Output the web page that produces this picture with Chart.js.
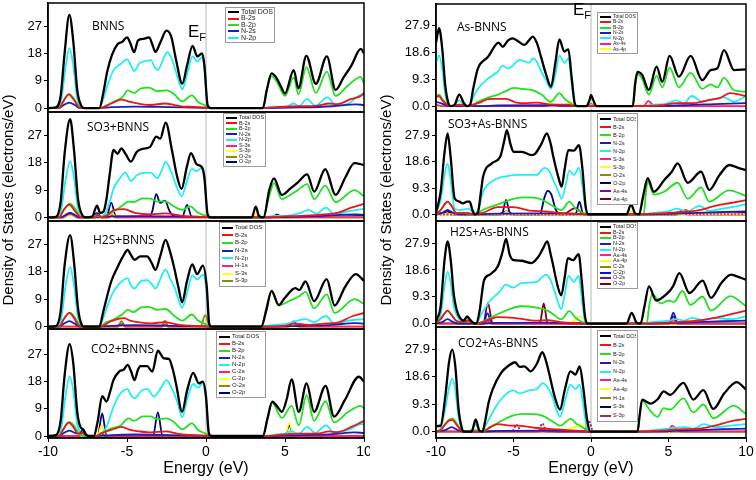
<!DOCTYPE html>
<html>
<head>
<meta charset="utf-8">
<title>DOS of BNNS and As-BNNS with adsorbed gases</title>
<script src="https://cdn.jsdelivr.net/npm/chart.js@4.4.1/dist/chart.umd.min.js"></script>
<style>
  html, body { margin: 0; padding: 0; background: #fff; }
  #figure { position: relative; width: 756px; height: 480px; overflow: hidden; font-family: "Liberation Sans", Arial, sans-serif; }
  #figure canvas { position: absolute; }
  .panel-title { position: absolute; font-family: "Open Sans", sans-serif; font-size: 12px; line-height: 14px; color: #000; white-space: nowrap; }
  .fermi { position: absolute; font-size: 17px; line-height: 18px; color: #000; white-space: nowrap; }
  .fermi sub { font-size: 11px; vertical-align: -4px; }
  .axis-title { position: absolute; width: 260px; height: 18px; font-size: 15px; line-height: 18px; text-align: center; white-space: nowrap; transform: rotate(-90deg); }
  .dos-legend { position: absolute; background: #fff; border: 1px solid #9a9a9a; box-sizing: border-box; padding: 1px 1px 1px 2px; }
  .dos-legend div { display: flex; align-items: center; white-space: nowrap; color: #222; overflow: hidden; }
  .dos-legend .swatch { display: inline-block; flex: none; width: 11px; height: 2px; margin-right: 2px; }
</style>
</head>
<body>
<div id="figure"></div>
<script>
// axis ticks
const X_TICKS = [-10, -5, 0, 5, 10];
const LEFT_Y_TICKS = [0, 9, 18, 27];
const RIGHT_Y_TICKS = [0, 9.3, 18.6, 27.9];
const FERMI_LEVEL = 0;

// ---- BNNS ----
const l1Total = [[-10,0],[-9.5,0.2],[-9.2,4],[-8.95,18],[-8.65,30.7],[-8.4,22],[-8.15,6],[-7.9,0.8],[-7.7,0],[-6.75,0],[-6.5,5],[-6.25,12],[-5.95,17.5],[-5.6,21],[-5.3,21.8],[-5.0,23.3],[-4.8,21.5],[-4.55,18.4],[-4.3,22.3],[-3.95,22.8],[-3.6,23.3],[-3.4,21],[-3.2,18.5],[-2.9,21.5],[-2.5,25.5],[-2.2,23.5],[-1.9,16],[-1.5,8],[-1.2,14],[-0.85,20.5],[-0.55,17],[-0.25,18],[-0.1,14],[0.1,1],[0.3,0],[3.6,0],[3.85,6],[4.15,11.4],[4.45,10],[4.75,7],[5.0,4.8],[5.55,12.5],[5.85,6.5],[6.35,17.2],[6.95,8],[7.65,17],[8.2,6],[8.7,10],[9.2,14],[9.8,19.5],[10,18]];
const l1N2p = [[-10,0],[-9.5,0.1],[-9.15,3],[-8.9,13],[-8.65,19.7],[-8.4,14],[-8.15,3],[-7.85,0],[-6.75,0],[-6.5,3],[-6.2,8],[-5.85,12.5],[-5.4,14.5],[-5.0,16],[-4.75,14],[-4.55,12.2],[-4.2,14.8],[-3.8,15.5],[-3.5,15.8],[-3.25,13.5],[-3.05,12.5],[-2.75,15.5],[-2.45,18.4],[-2.15,16],[-1.85,11],[-1.5,6.2],[-1.2,11],[-0.85,17],[-0.55,15.3],[-0.25,16.8],[-0.1,13],[0.1,1],[0.3,0],[3.6,0],[4.2,0.5],[5.0,0.4],[5.55,1.5],[5.9,0.6],[6.4,3],[6.9,0.8],[7.7,3.5],[8.2,1],[9.0,1.5],[9.9,4.5],[10,4]];
const l1B2p = [[-10,0],[-9.3,0],[-9.0,2.5],[-8.65,4.6],[-8.35,3],[-8.05,0.5],[-7.8,0],[-6.75,0],[-6.3,0.8],[-5.8,2.2],[-5.3,3.5],[-4.95,5.8],[-4.55,5],[-4.1,6.5],[-3.6,6.7],[-3.1,5.6],[-2.5,5.8],[-2.0,4.5],[-1.5,2.2],[-0.9,4.2],[-0.5,2],[0,0.8],[0.4,0],[3.6,0],[3.85,6],[4.15,10.5],[4.5,8.5],[5.0,4],[5.55,10],[5.85,4.5],[6.35,13.5],[6.95,5],[7.65,12],[8.2,4],[9.0,7.5],[9.8,10.3],[10,8]];
const l1B2s = [[-10,0],[-9.3,0],[-9.0,2.5],[-8.7,4.5],[-8.4,3],[-8.05,0.3],[-7.8,0],[-6.7,0],[-6.0,1.5],[-5.35,2.8],[-4.8,2],[-4.2,1.4],[-3.5,1.0],[-2.6,1.5],[-2.0,1.0],[-1.5,0.5],[-0.8,0.4],[0,0.1],[0.3,0],[3.6,0],[4.5,0.3],[6.0,0.6],[7.0,0.7],[7.8,1.5],[8.3,1.3],[9.2,3],[9.8,4],[10,5]];
const l1N2s = [[-10,0],[-9.3,0],[-9.0,1],[-8.65,1.8],[-8.3,1],[-8.0,0],[-6.7,0],[-6.0,0.3],[-4.5,0.5],[-3,0.4],[-1.5,0.2],[0,0.1],[0.3,0],[3.6,0],[6,0.2],[8,0.6],[9.5,1.2],[10,1]];

// ---- SO3+BNNS ----
const l2Total = [[-10,0],[-9.5,0.2],[-9.2,5],[-8.95,21],[-8.6,32.4],[-8.35,22],[-8.1,6],[-7.8,0.5],[-7.6,0],[-7.2,0.3],[-6.9,3.9],[-6.7,1.5],[-6.5,1.8],[-6.3,6],[-6.1,14],[-5.85,22.3],[-5.6,21],[-5.35,22.8],[-5.1,21],[-4.75,18.4],[-4.4,21.5],[-4.1,22.5],[-3.55,23.2],[-3.15,26.7],[-2.9,26],[-2.55,31.3],[-2.15,22],[-1.85,14],[-1.55,9.4],[-1.2,17],[-0.95,21.2],[-0.6,17.6],[-0.25,16.5],[-0.1,13],[0.1,1],[0.3,0],[2.9,0],[3.15,3.5],[3.35,0.5],[3.65,0],[4.0,9],[4.3,12.9],[4.8,7.4],[5.35,9.6],[5.8,11.5],[6.4,14.2],[6.85,8.5],[7.55,15.9],[8.2,7.4],[8.8,13],[9.4,17.9],[10,17.3]];
const l2N2p = [[-10,0],[-9.5,0.1],[-9.15,3],[-8.9,12],[-8.6,18.5],[-8.35,13],[-8.1,3],[-7.85,0],[-7.1,0],[-6.9,1],[-6.7,0.3],[-6.4,1],[-6.1,5],[-5.85,9.5],[-5.5,12.5],[-5.1,14.8],[-4.75,12],[-4.4,13.8],[-4.0,14.7],[-3.5,14.8],[-3.1,13],[-2.8,15.5],[-2.55,18.3],[-2.2,15],[-1.85,10],[-1.55,7],[-1.2,12],[-0.9,16],[-0.6,15.3],[-0.25,16.3],[-0.1,14],[0.1,1],[0.3,0],[3.6,0],[4.3,0.5],[5.0,0.5],[6.0,1.5],[6.5,2.5],[7.0,1.2],[7.6,3.2],[8.1,1],[9.0,2],[10,2.8]];
const l2B2p = [[-10,0],[-9.3,0],[-9.0,2.5],[-8.6,4.5],[-8.3,3],[-8.0,0.5],[-7.7,0],[-7.0,0],[-6.9,0.5],[-6.6,0.1],[-6.3,0.8],[-5.8,2],[-5.4,3.5],[-4.9,5.2],[-4.6,5],[-4.0,6.3],[-3.5,6.2],[-3.1,5.2],[-2.6,5.3],[-2.0,3.5],[-1.5,2.5],[-1.0,3.6],[-0.5,1.5],[0,0.5],[0.3,0],[3.6,0],[4.0,7],[4.3,11.3],[4.8,6],[5.35,7.5],[5.8,9],[6.4,11],[6.85,6],[7.55,10.5],[8.2,5],[9.4,9],[10,7]];
const l2B2s = [[-10,0],[-9.3,0],[-9.0,2.5],[-8.65,4.2],[-8.35,2.5],[-8.0,0.3],[-7.7,0],[-7.0,0],[-6.9,0.8],[-6.6,0],[-6.3,0.5],[-5.8,2.5],[-5.2,2.7],[-4.5,1.5],[-3.5,1],[-2.6,1.3],[-1.5,0.5],[0,0.1],[0.3,0],[3.6,0],[5,0.3],[6,0.5],[7.5,1],[8.3,1.5],[9.2,3.2],[10,4.5]];
const l2N2s = [[-10,0],[-9.2,0],[-8.9,0.8],[-8.6,1.5],[-8.3,0.8],[-8.0,0],[-7.0,0],[-6.0,0.3],[-4.0,0.4],[-2,0.3],[0,0.1],[0.3,0],[3.6,0],[7,0.4],[9.5,1],[10,0.8]];
const l2S3s = [[-10,0],[-9.1,0],[-8.6,1.2],[-8.1,0],[-7.1,0],[-6.9,0.6],[-6.7,0],[-6.1,0],[-5.95,0.5],[-5.8,0],[10,0]];
const l2S3p = [[-10,0],[-9.1,0],[-8.6,0.8],[-8.1,0],[-6.2,0],[-5.95,1.5],[-5.7,0],[2.9,0],[3.15,1],[3.4,0],[10,0]];
const l2O2s = [[-10,0],[-9.1,0],[-8.6,0.8],[-8.1,0],[-6.2,0],[-5.95,1],[-5.7,0],[10,0]];
const l2O2p = [[-10,0],[-9.0,0],[-8.6,1.5],[-8.2,0],[-7.2,0],[-6.9,1.5],[-6.6,0],[-6.3,0],[-6.0,4.9],[-5.7,0.3],[-3.6,0.2],[-3.4,2],[-3.15,7.7],[-2.9,4.8],[-2.6,5.5],[-2.3,2],[-2.0,0.3],[-1.5,0.2],[-1.2,4.1],[-0.9,0.2],[4.2,0],[4.5,1],[4.8,0],[10,0.5]];

// ---- H2S+BNNS ----
const l3Total = [[-10,0],[-9.5,0.2],[-9.2,5],[-8.95,20],[-8.6,30],[-8.35,21],[-8.1,6],[-7.85,0.5],[-7.7,0],[-6.75,0],[-6.5,5],[-6.0,14.8],[-5.6,19.5],[-5.25,23],[-4.96,25.1],[-4.75,23.5],[-4.53,21.9],[-4.15,23],[-3.73,23],[-3.45,21],[-3.2,18.6],[-2.9,23],[-2.56,28.4],[-2.3,25],[-2.0,19],[-1.75,13],[-1.51,8],[-1.2,15],[-0.87,20.4],[-0.56,17.2],[-0.2,20],[0.05,13],[0.2,1],[0.35,0],[3.5,0],[3.8,5],[4.15,11.7],[4.6,7.1],[5.0,9.5],[5.65,12.6],[5.9,12],[6.3,14.8],[6.84,8.4],[7.64,15.6],[8.14,6.9],[8.8,13],[9.48,17.2],[10,15]];
const l3N2p = [[-10,0],[-9.5,0.1],[-9.15,3],[-8.9,13],[-8.6,19.5],[-8.35,13.5],[-8.1,3],[-7.85,0],[-6.75,0],[-6.5,3],[-6.0,10],[-5.5,14],[-4.96,15.8],[-4.75,13.5],[-4.53,12.5],[-4.1,15],[-3.7,15.2],[-3.45,14],[-3.2,12.5],[-2.9,15.5],[-2.56,18.7],[-2.25,15.5],[-2.0,13],[-1.75,9],[-1.51,6.2],[-1.2,11],[-0.87,16.8],[-0.56,15.5],[-0.2,17],[0.05,11],[0.2,1],[0.35,0],[3.5,0],[4.3,0.6],[5.0,0.8],[5.65,1.8],[6.3,2.5],[6.84,1.5],[7.6,3.5],[8.1,1],[9.0,2],[10,2.5]];
const l3B2p = [[-10,0],[-9.3,0],[-9.0,2.5],[-8.6,4.6],[-8.3,3],[-8.0,0.5],[-7.8,0],[-6.75,0],[-6.3,1.5],[-5.8,2.5],[-5.3,4],[-4.96,5.5],[-4.6,4.8],[-4.1,6.3],[-3.6,6.5],[-3.1,5.5],[-2.56,5.8],[-2.0,3.5],[-1.5,2],[-0.9,4],[-0.5,2],[0,0.8],[0.4,0],[3.5,0],[3.85,7],[4.15,11.5],[4.6,7],[5.3,8.5],[5.9,10],[6.3,11.4],[6.84,6],[7.64,10.6],[8.14,4.5],[9.4,9],[10,7.5]];
const l3B2s = [[-10,0],[-9.3,0],[-9.0,2.5],[-8.65,4.5],[-8.35,2.8],[-8.05,0.3],[-7.8,0],[-6.7,0],[-6.0,1.8],[-5.2,2.8],[-4.8,2],[-4.2,1.4],[-3.5,1.1],[-2.6,1.5],[-2.0,0.9],[-1.5,0.5],[0,0.1],[0.3,0],[3.5,0],[5.0,0.3],[5.6,1],[6.5,0.6],[7.5,1],[8.3,1.3],[9.3,3.5],[10,4.5]];
const l3N2s = [[-10,0],[-9.3,0],[-9.0,1],[-8.65,1.8],[-8.3,1],[-8.0,0],[-6.7,0],[-6.0,0.3],[-4.5,0.5],[-3,0.4],[-1.5,0.2],[0,0.1],[0.3,0],[3.5,0],[6,0.3],[8,0.6],[9.4,1.2],[10,1]];
const l3H1s = [[-10,0],[-5.6,0],[-5.35,1],[-5.1,0],[-2.8,0],[-2.6,0.8],[-2.4,0],[5.2,0],[5.55,1.8],[5.9,0],[10,0]];
const l3S3s = [[-10,0],[-5.5,0],[-5.3,0.5],[-5.1,0],[-0.3,0],[-0.1,0.6],[0.1,0],[10,0]];
const l3S3p = [[-10,0],[-5.6,0],[-5.35,1.8],[-5.1,0],[-2.85,0],[-2.6,2],[-2.35,0],[-0.35,0],[-0.05,3.8],[0.25,0],[5.2,0],[5.5,1.5],[5.8,0],[10,0]];

// ---- CO2+BNNS ----
const l4Total = [[-10,0],[-9.5,0.3],[-9.2,5],[-8.95,20],[-8.63,30.4],[-8.4,24],[-8.15,8],[-7.95,3],[-7.78,2.2],[-7.6,0.5],[-7.4,0],[-7.1,0],[-6.85,5],[-6.57,13.2],[-6.3,11.4],[-6.05,15],[-5.86,18.5],[-5.5,21.3],[-5.2,22],[-4.96,23.5],[-4.75,21.5],[-4.53,18.5],[-4.3,22],[-4.15,23.1],[-3.73,23.1],[-3.4,21.3],[-3.05,28.2],[-2.67,25.7],[-2.35,25.5],[-2.1,22],[-1.9,17.4],[-1.51,8],[-1.2,15],[-0.81,20.9],[-0.45,17.4],[-0.2,18],[0,13],[0.18,1],[0.35,0],[3.6,0],[3.9,6],[4.19,11.4],[4.5,9.8],[4.8,8],[5.1,12],[5.42,18.7],[5.87,8],[6.37,17.4],[6.84,8],[7.57,16.6],[8.1,6.4],[8.8,12],[9.67,19.6],[10,18]];
const l4N2p = [[-10,0],[-9.5,0.1],[-9.15,3],[-8.9,13],[-8.63,19.7],[-8.4,15],[-8.15,4],[-7.9,1],[-7.6,0],[-6.9,0],[-6.57,1],[-6.3,3],[-5.9,9],[-5.5,13.5],[-4.96,15.5],[-4.75,13.5],[-4.53,12.5],[-4.0,15.3],[-3.7,15.5],[-3.3,13],[-2.9,15.5],[-2.5,18.5],[-2.1,15],[-1.8,11],[-1.5,6.2],[-1.2,12],[-0.81,17.2],[-0.5,16],[-0.2,17.5],[0,12],[0.18,1],[0.35,0],[3.6,0],[4.5,0.5],[5.0,0.8],[5.4,1.5],[5.87,0.8],[6.4,3],[6.9,1],[7.6,3.5],[8.1,1],[9.0,2],[9.9,4],[10,3.5]];
const l4B2p = [[-10,0],[-9.3,0],[-9.0,2.5],[-8.63,4.6],[-8.3,3],[-8.0,0.5],[-7.8,0],[-7.0,0],[-6.57,1],[-6.0,2.5],[-5.4,3.5],[-4.9,5.8],[-4.55,5],[-4.0,6.5],[-3.5,6.5],[-3.1,5.6],[-2.5,5.8],[-2.0,4.5],[-1.5,2.2],[-0.9,4.2],[-0.5,2],[0,0.8],[0.4,0],[3.6,0],[3.9,6],[4.19,11],[4.8,6],[5.42,10],[5.87,3.5],[6.37,13.5],[6.84,5],[7.57,11.5],[8.1,4.5],[9.0,8],[9.8,10],[10,9]];
const l4B2s = [[-10,0],[-9.3,0],[-9.0,2.5],[-8.7,4.5],[-8.4,3],[-8.1,0.8],[-7.8,1],[-7.5,0],[-6.9,0],[-6.6,1],[-6.0,2],[-5.35,3],[-4.8,2],[-4.2,1.5],[-3.5,1.2],[-2.5,1.5],[-2.0,1],[-1.5,0.5],[0,0.1],[0.3,0],[3.6,0],[5,0.5],[6,0.8],[7,0.8],[7.8,1.5],[8.3,1.3],[9.2,3],[9.8,4.5],[10,5]];
const l4N2s = [[-10,0],[-9.3,0],[-9.0,1],[-8.65,1.8],[-8.3,1],[-8.0,0.8],[-7.78,2],[-7.5,0],[-6.9,0],[-6.0,0.3],[-4.5,0.5],[-3,0.4],[-1.5,0.2],[0,0.1],[0.3,0],[3.6,0],[6,0.3],[8,0.6],[9.4,1.2],[10,1]];
const l4C2s = [[-10,0],[-8.0,0],[-7.8,0.8],[-7.6,0],[-6.8,0],[-6.6,1],[-6.4,0],[5.1,0],[5.3,0.8],[5.5,0],[10,0]];
const l4C2p = [[-10,0],[-6.85,0],[-6.6,3.5],[-6.35,0],[5.0,0],[5.27,4.5],[5.55,0],[10,0]];
const l4O2s = [[-10,0],[-8.0,0],[-7.8,1],[-7.6,0],[-6.8,0],[-6.6,1],[-6.4,0],[10,0]];
const l4O2p = [[-10,0],[-8.05,0],[-7.8,2.2],[-7.55,0],[-6.85,0],[-6.57,7.5],[-6.3,0],[-3.35,0],[-3.05,7.8],[-2.75,0],[5.0,0],[5.27,3.5],[5.55,0],[10,0]];

// ---- As-BNNS ----
const r1Total = [[-10,22],[-9.8,27],[-9.6,20],[-9.4,7],[-9.2,1],[-9.05,0],[-8.8,0.5],[-8.5,4],[-8.2,1],[-8.0,0],[-7.8,0.5],[-7.6,6],[-7.3,13],[-6.65,17],[-5.96,22],[-5.7,20.6],[-5.35,22.8],[-5.06,23.5],[-4.7,22.5],[-4.3,21.2],[-4.0,22.8],[-3.76,24.1],[-3.5,22],[-3.22,17],[-2.9,11],[-2.58,6.7],[-2.3,15],[-2.04,23.1],[-1.72,18.9],[-1.46,19.7],[-1.25,10],[-1.05,1],[-0.9,0],[-0.3,0],[-0.1,2],[0.0,3.8],[0.15,2],[0.35,0],[2.7,0],[2.85,8],[3.0,11.9],[3.3,10.8],[3.73,5.6],[4.23,13.7],[4.6,8.4],[5.07,17.4],[5.67,10.2],[6.43,17.4],[7.18,9],[7.72,12.5],[8.15,13.1],[8.58,19.4],[9.23,12.5],[10,12.7]];
const r1N2p = [[-10,15],[-9.8,17.5],[-9.6,13],[-9.4,4],[-9.2,0.5],[-9.0,0],[-8.8,0.5],[-8.5,2],[-8.2,0.3],[-8.0,0],[-7.8,0.3],[-7.6,3],[-7.3,6],[-6.65,9.5],[-6.0,12],[-5.7,14],[-5.35,13],[-5.06,14],[-4.6,16],[-4.3,15.5],[-4.0,15],[-3.76,16.5],[-3.5,15.5],[-3.22,12],[-2.9,9],[-2.58,6],[-2.3,11],[-2.04,17.5],[-1.72,15],[-1.46,16.5],[-1.25,8],[-1.05,0.5],[-0.9,0],[-0.1,0],[0,0.5],[0.2,0],[3.0,0],[4.0,0.5],[4.8,0.8],[5.5,2],[6.0,1],[6.5,3.5],[7.2,1.5],[8.0,2.5],[8.6,3],[9.2,1.5],[10,3.5]];
const r1B2p = [[-10,3.5],[-9.8,4],[-9.6,2.5],[-9.2,0.3],[-9.0,0],[-8.5,0.5],[-8.0,0],[-7.6,0.5],[-7.3,1.5],[-6.6,3],[-6.0,4],[-5.5,5.2],[-5.0,6.3],[-4.5,6],[-3.8,5.5],[-3.2,4],[-2.6,1.5],[-2.04,4.5],[-1.7,2.5],[-1.46,1.5],[-1.1,0.3],[-0.9,0],[2.7,0],[2.85,7],[3.0,11],[3.3,9.5],[3.73,4],[4.23,10.5],[4.6,6.5],[5.07,13.3],[5.67,6.5],[6.43,11.5],[7.18,6],[7.72,7.5],[8.15,6.5],[8.58,9.8],[9.23,5.5],[10,5]];
const r1B2s = [[-10,3],[-9.8,3.5],[-9.6,2],[-9.2,0.2],[-9.0,0],[-8.5,0.5],[-8.0,0],[-7.3,1],[-6.5,2.5],[-5.5,2.5],[-4.8,1.2],[-4.3,1],[-3.5,1.2],[-2.5,0.5],[-1.5,0.5],[-0.9,0],[2.7,0],[4.5,0.3],[5.5,1],[6.5,1],[7.5,2],[8.3,2.8],[9,4.5],[10,3.5]];
const r1N2s = [[-10,1.5],[-9.7,1],[-9.3,0.2],[-9.0,0],[-7.5,0],[-6,0.2],[-3,0.3],[-1,0.1],[-0.9,0],[2.7,0],[6,0.3],[8.5,0.8],[10,1]];
const r1As4s = [[-10,0.5],[-9.6,0],[-3.0,0],[-2.5,0.5],[-2.0,0],[-0.2,0],[0,0.8],[0.2,0],[3.4,0],[3.7,1.8],[4.0,0.3],[4.3,0],[10,0]];
const r1As4p = [[-10,0],[-3.2,0],[-2.6,1.2],[-2.3,0.5],[-1.6,0.3],[-1.3,1.5],[-1.1,0],[-0.3,0],[0,3.2],[0.3,0],[10,0]];

// ---- SO3+As-BNNS ----
const r2Total = [[-10,0.5],[-9.7,8],[-9.45,22],[-9.25,28.7],[-9.05,20],[-8.8,5.7],[-8.5,4.5],[-8.26,3.9],[-8.0,4.5],[-7.83,4.5],[-7.65,1.5],[-7.5,0],[-7.3,0.5],[-7.1,8],[-6.96,13.4],[-6.4,18.1],[-5.86,20.4],[-5.6,26],[-5.43,29.9],[-5.2,25],[-5.0,22.2],[-4.46,22.2],[-3.82,21],[-3.6,21.5],[-3.2,25],[-2.85,28.7],[-2.6,25],[-2.43,20.4],[-2.1,13],[-1.89,9.8],[-1.7,16],[-1.46,22.8],[-1.1,22.6],[-0.78,24.6],[-0.55,16],[-0.35,3],[-0.17,0],[2.3,0],[2.58,3.5],[2.85,0.3],[3.1,0],[3.35,6],[3.66,12.8],[4.05,8],[4.73,12.2],[5.2,15],[5.59,18.1],[6.24,11.2],[7.1,15.1],[7.63,8.6],[8.3,14],[8.92,17.5],[9.5,16.5],[10,15.7]];
const r2N2p = [[-10,0.5],[-9.7,5],[-9.45,14],[-9.25,18],[-9.05,12],[-8.8,2],[-8.4,1.5],[-7.9,2],[-7.6,0.5],[-7.5,0],[-7.2,3],[-6.96,8],[-6.3,12],[-5.5,13.5],[-4.5,14],[-3.5,14],[-3.0,16.5],[-2.7,15.5],[-2.43,12],[-2.1,8],[-1.89,5.5],[-1.65,10],[-1.4,15.5],[-1.1,14],[-0.78,16.5],[-0.55,10],[-0.35,2],[-0.17,0],[3.4,0],[4.0,0.5],[5.0,1],[5.5,2],[6.2,1],[7.0,3],[7.6,1.3],[8.5,2],[10,3.5]];
const r2B2p = [[-10,0],[-9.7,1.5],[-9.45,3.5],[-9.25,4.5],[-9.0,3],[-8.7,0.5],[-8.3,0.5],[-7.5,0],[-7.0,1.5],[-6.0,3.5],[-5.0,5.5],[-4.3,6],[-3.3,5.5],[-2.5,3],[-1.89,1.5],[-1.4,4.5],[-1.0,2],[-0.5,0.5],[-0.2,0],[3.4,0],[3.55,8],[3.66,11.8],[4.05,7],[4.73,8],[5.59,11.2],[6.24,5.5],[7.1,9.5],[7.63,4.5],[8.9,8.5],[10,6.5]];
const r2B2s = [[-10,0],[-9.7,1.5],[-9.45,3.5],[-9.25,4.5],[-9.0,3],[-8.7,0.5],[-8.0,0.5],[-7.5,0],[-7.0,0.5],[-6.0,2.5],[-5.0,2.5],[-4.0,1.3],[-3.0,1],[-2.0,0.5],[-0.2,0],[3.4,0],[5,0.5],[6,0.8],[7,1.5],[8,3],[9,4],[10,5]];
const r2N2s = [[-10,0],[-9.6,0.5],[-9.25,1.5],[-8.9,0.5],[-8.5,0],[-7.5,0],[-6,0.2],[-3,0.3],[-1,0.2],[-0.2,0],[3.4,0],[6,0.3],[8.5,0.8],[10,1]];
const r2S3s = [[-10,0],[5.4,0],[5.8,1.5],[6.2,0],[10,0]];
const r2S3p = [[-10,0],[-5.7,0],[-5.45,0.8],[-5.2,0],[2.3,0],[2.58,1.2],[2.85,0],[10,0]];
const r2O2s = [[-10,0],[-5.7,0],[-5.45,1],[-5.2,0],[10,0]];
const r2O2p = [[-10,0],[-9.5,0.5],[-9.25,1.5],[-9.0,0.3],[-8.7,0],[-5.75,0],[-5.48,5.1],[-5.2,0],[-3.3,0],[-3.0,6],[-2.8,8.3],[-2.55,6.9],[-2.3,2],[-2.0,0],[-1.0,0],[-0.75,4.5],[-0.5,0],[5.5,0],[5.9,1.2],[6.3,0],[10,0.5]];
const r2As4s = [[-10,0],[5.6,0],[5.9,1],[6.2,0],[10,0]];
const r2As4p = [[-10,0],[-9.5,0.5],[-9.25,1],[-9,0],[-6,0],[-5.45,1],[-5,0],[-1.8,0],[-1.3,1.5],[-1.0,2.2],[-0.7,1],[-0.4,0],[5.6,0],[6.1,1.5],[6.6,0],[10,0]];

// ---- H2S+As-BNNS ----
const r3Total = [[-10,0.8],[-9.7,6],[-9.45,22],[-9.25,28.5],[-9.05,22],[-8.85,10],[-8.67,4.8],[-8.45,2],[-8.2,1],[-8.0,2.5],[-7.83,1.5],[-7.6,0.3],[-7.4,0],[-7.2,4],[-6.9,15],[-6.53,17],[-6.0,20],[-5.7,25],[-5.48,29.4],[-5.25,24],[-5.04,22.1],[-4.5,21.8],[-3.85,21],[-3.42,23],[-3.1,26],[-2.82,28.5],[-2.6,24],[-2.45,20.4],[-2.15,13],[-1.92,9.8],[-1.7,16],[-1.49,22.7],[-1.15,22],[-0.8,24.1],[-0.6,15],[-0.4,3],[-0.25,0],[2.3,0],[2.62,3.7],[2.95,0.3],[3.2,0],[3.45,6],[3.74,12.9],[4.2,8],[4.95,10.6],[5.3,13],[5.7,17.5],[6.35,10.6],[7.2,14.9],[7.74,8.9],[8.4,14],[9.03,17],[9.6,16],[10,15.2]];
const r3N2p = [[-10,0.5],[-9.7,3],[-9.45,13],[-9.25,18],[-9.05,14],[-8.85,6],[-8.67,3],[-8.4,1],[-8.0,1.8],[-7.7,0.5],[-7.4,0],[-7.1,3],[-6.5,8],[-5.9,11],[-5.5,13.5],[-5.0,12.5],[-4.5,14],[-3.5,14.5],[-2.9,17],[-2.6,15],[-2.4,12],[-2.1,7],[-1.92,5],[-1.7,10],[-1.45,16.5],[-1.1,14.5],[-0.8,16.5],[-0.6,9],[-0.4,1],[-0.25,0],[3.4,0],[4.0,0.5],[5.0,1],[5.5,1.5],[6.0,1],[6.5,2],[7.2,1.2],[8.0,2],[9.0,1.5],[10,2.5]];
const r3B2p = [[-10,0.3],[-9.7,1.5],[-9.45,3.5],[-9.25,4.5],[-9.0,3],[-8.7,1],[-8.3,0.5],[-8.0,1],[-7.6,0.3],[-7.4,0],[-6.5,2],[-5.5,4.5],[-4.5,6],[-3.5,5.5],[-2.8,4.5],[-2.5,3.5],[-1.92,1.5],[-1.4,4.3],[-1.0,2],[-0.5,0.3],[-0.3,0],[3.6,0],[3.75,6],[3.95,10.3],[4.5,7],[5.0,8],[5.35,7.5],[5.9,11.3],[6.4,6.5],[7.2,9.3],[7.74,4.5],[9.0,9.5],[10,6]];
const r3B2s = [[-10,0.3],[-9.7,1.5],[-9.45,3.5],[-9.25,4.5],[-9.0,3],[-8.7,1],[-8.3,0.5],[-8.0,1],[-7.6,0.2],[-7.4,0],[-6.5,1.5],[-6.0,2.2],[-5.0,2],[-4.0,1.2],[-3.5,1],[-2.8,1.2],[-2.0,0.5],[-0.3,0],[3.4,0],[5.5,0.5],[6.5,0.8],[8,2],[9,3.2],[10,4.5]];
const r3N2s = [[-10,0],[-9.6,0.5],[-9.25,1.5],[-8.9,0.5],[-8.5,0],[-7.4,0],[-6,0.2],[-3,0.3],[-1,0.2],[-0.3,0],[3.4,0],[6,0.3],[8.5,0.8],[10,1]];
const r3As4s = [[-10,0.5],[-9.7,0],[-6.9,0],[-6.65,1],[-6.4,0],[5.0,0],[5.3,1.2],[5.6,0],[10,0]];
const r3As4p = [[-10,0],[-1.6,0],[-1.0,1.2],[-0.7,2.5],[-0.4,1.5],[-0.25,0],[10,0]];
const r3C2s = [[-10,0],[-8.1,0],[-7.85,1],[-7.6,0],[-6.9,0],[-6.65,1.5],[-6.4,0],[10,0]];
const r3C2p = [[-10,0],[-8.1,0],[-7.85,1.2],[-7.6,0],[-6.95,0],[-6.68,3.5],[-6.4,0],[5.05,0],[5.31,3.8],[5.6,0],[10,0]];
const r3O2s = [[-10,0],[-7.0,0],[-6.7,1],[-6.4,0],[10,0]];
const r3O2p = [[-10,0],[-8.1,0],[-7.85,1.5],[-7.6,0],[-6.95,0],[-6.65,7.2],[-6.35,0],[-3.3,0],[-3.05,7],[-2.8,0],[5.05,0],[5.3,2.5],[5.6,0],[10,0]];

// ---- CO2+As-BNNS ----
const r4Total = [[-10,1.8],[-9.7,2],[-9.4,12],[-9.15,24],[-8.95,27.9],[-8.75,22],[-8.55,8],[-8.35,1.5],[-8.2,0],[-7.7,0],[-7.44,4.1],[-7.2,0.3],[-7.0,0],[-6.85,3],[-6.6,10],[-6.35,14.3],[-5.8,20],[-5.3,22.5],[-4.9,23.6],[-4.6,22],[-4.3,22.2],[-3.9,20.5],[-3.5,23],[-3.14,27],[-2.9,24],[-2.71,20],[-2.35,12],[-2.0,7.5],[-1.7,14],[-1.33,20.5],[-1.0,19.4],[-0.73,22.2],[-0.5,15],[-0.25,4],[-0.04,0],[3.0,0],[3.15,6],[3.3,10.9],[3.84,9.5],[4.3,11],[4.69,13.7],[5.1,12.5],[5.96,16.6],[6.6,10.9],[7.25,14.1],[7.89,7.7],[8.6,13],[9.4,16.8],[10,14.3]];
const r4N2p = [[-10,0],[-9.7,1],[-9.4,8],[-9.15,15],[-8.95,18],[-8.75,14],[-8.55,5],[-8.35,1],[-8.2,0],[-7.7,0.5],[-7.44,2.5],[-7.2,0.3],[-7.0,0],[-6.8,2],[-6.3,7],[-5.8,11],[-5.3,13.5],[-5.0,14],[-4.6,13],[-4.0,14],[-3.5,14.5],[-3.1,16.5],[-2.8,15],[-2.5,12],[-2.2,7],[-2.0,5],[-1.7,10],[-1.33,16],[-1.0,14.5],[-0.73,16],[-0.5,9],[-0.25,1],[0,0],[3.2,0],[4,0.5],[5,1],[6,1.5],[6.6,1],[7.3,2.5],[8,1.5],[9,2],[10,2.5]];
const r4B2p = [[-10,0],[-9.7,0.5],[-9.4,2.5],[-9.15,4],[-8.95,4.5],[-8.7,3],[-8.4,0.5],[-8.2,0],[-7.44,0.5],[-7.0,0],[-6.5,1.5],[-6.0,3],[-5.0,5.5],[-4.3,6],[-3.2,5.5],[-2.5,3.5],[-2.0,2],[-1.3,4.3],[-0.9,2.5],[-0.7,2],[-0.3,0.5],[0,0],[3.0,0],[3.15,6],[3.3,10.5],[3.84,7],[4.3,5],[4.69,8],[5.1,7.5],[5.96,11.3],[6.6,6.5],[7.25,9.2],[7.89,4.5],[9.2,8.8],[10,6]];
const r4B2s = [[-10,0],[-9.7,0.5],[-9.4,2.5],[-9.15,3.8],[-8.95,4],[-8.7,2.5],[-8.4,0.5],[-8.2,0],[-7.0,0],[-6.5,1.5],[-6.0,2.5],[-5.2,2],[-4.8,2],[-3.5,1.2],[-2.5,0.8],[-1.5,0.5],[0,0],[3.0,0],[4.5,0.3],[6,0.8],[7,1],[8,2],[9,3.5],[10,4.3]];
const r4N2s = [[-10,0],[-9.4,0.5],[-9.0,1.5],[-8.6,0.5],[-8.3,0],[-7.0,0],[-6,0.2],[-3,0.3],[-1,0.2],[0,0],[3.0,0],[6,0.3],[8.5,0.8],[10,1]];
const r4As4s = [[-10,0],[4.9,0],[5.25,2],[5.6,0.3],[6,0],[10,0]];
const r4As4p = [[-10,0],[-2.5,0],[-1.5,0.8],[-0.8,2],[-0.5,2.5],[-0.2,1],[0.1,0],[10,0]];
const r4H1s = [[-10,0],[-3.4,0],[-3.14,0.8],[-2.9,0],[4.9,0],[5.2,1],[5.5,0],[10,0]];
const r4S3s = [[-10,0],[-3.4,0],[-3.14,1],[-2.9,0],[10,0]];
const r4S3p = [[-10,0],[-5.1,0],[-4.8,2.3],[-4.5,0],[-3.4,0],[-3.14,2.7],[-2.85,0],[-0.45,0],[-0.15,3.8],[0.15,0],[10,0]];

(function() {
    'use strict';

    const COLORS = {
        total: '#000000', b2s: '#f01414', b2p: '#22e022', n2s: '#1e1eb4', n2p: '#1eeef5',
        pink: '#ff1f7a', yellow: '#ffff1e', olive: '#8c8a00', navy: '#00007a', blue: '#0a0aff',
        purple: '#7a0a9a', maroon: '#7a0014', magenta: '#a0207e'
    };

    /**
     * Column geometry (page pixels)
     */
    const COLUMNS = {
        left: { left: 0, width: 370, axisWidth: 48, padRight: 6, ticks: LEFT_Y_TICKS, decimals: 0 },
        right: { left: 380, width: 376, axisWidth: 56, padRight: 10, ticks: RIGHT_Y_TICKS, decimals: 1 }
    };

    /**
     * One entry per panel: frame position, y range, title, legend box, series
     */
    const PANELS = [
        { col: 'left', top: 3, bottom: 112, yMin: -1.3, yMax: 34.6, title: 'BNNS', titleAt: [92, 26], fermiAt: [188, 32],
          legend: { left: 225, top: 7, width: 50, height: 36, font: 7 },
          series: [['Total DOS', l1Total, 'total'], ['B-2s', l1B2s, 'b2s'], ['B-2p', l1B2p, 'b2p'], ['N-2s', l1N2s, 'n2s'], ['N-2p', l1N2p, 'n2p']] },
        { col: 'left', top: 112, bottom: 221, yMin: -1.2, yMax: 34.8, title: 'SO3+BNNS', titleAt: [87, 127],
          legend: { left: 223, top: 113, width: 43, height: 54, font: 5.5 },
          series: [['Total DOS', l2Total, 'total'], ['B-2s', l2B2s, 'b2s'], ['B-2p', l2B2p, 'b2p'], ['N-2s', l2N2s, 'n2s'], ['N-2p', l2N2p, 'n2p'],
                   ['S-3s', l2S3s, 'pink'], ['S-3p', l2S3p, 'yellow'], ['O-2s', l2O2s, 'olive'], ['O-2p', l2O2p, 'navy']] },
        { col: 'left', top: 221, bottom: 329, yMin: -0.75, yMax: 34.6, title: 'H2S+BNNS', titleAt: [93, 240],
          legend: { left: 219, top: 222, width: 47, height: 65, font: 6 },
          series: [['Total DOS', l3Total, 'total'], ['B-2s', l3B2s, 'b2s'], ['B-2p', l3B2p, 'b2p'], ['N-2s', l3N2s, 'n2s'], ['N-2p', l3N2p, 'n2p'],
                   ['H-1s', l3H1s, 'pink'], ['S-3s', l3S3s, 'yellow'], ['S-3p', l3S3p, 'olive']] },
        { col: 'left', top: 329, bottom: 438, yMin: -0.66, yMax: 35.4, title: 'CO2+BNNS', titleAt: [91, 349],
          legend: { left: 216, top: 331, width: 50, height: 67, font: 6 },
          series: [['Total DOS', l4Total, 'total'], ['B-2s', l4B2s, 'b2s'], ['B-2p', l4B2p, 'b2p'], ['N-2s', l4N2s, 'n2s'], ['N-2p', l4N2p, 'n2p'],
                   ['C-2s', l4C2s, 'pink'], ['C-2p', l4C2p, 'yellow'], ['O-2s', l4O2s, 'olive'], ['O-2p', l4O2p, 'navy']] },
        { col: 'right', top: 4, bottom: 111, yMin: -1.7, yMax: 35.4, title: 'As-BNNS', titleAt: [457, 27], fermiAt: [573, 10],
          legend: { left: 597, top: 12, width: 41, height: 42, font: 5 },
          series: [['Total DOS', r1Total, 'total'], ['B-2s', r1B2s, 'b2s'], ['B-2p', r1B2p, 'b2p'], ['N-2s', r1N2s, 'n2s'], ['N-2p', r1N2p, 'n2p'],
                   ['As-4s', r1As4s, 'pink'], ['As-4p', r1As4p, 'yellow']] },
        { col: 'right', top: 111, bottom: 221, yMin: -2.4, yMax: 36.7, title: 'SO3+As-BNNS', titleAt: [448, 124],
          legend: { left: 597, top: 113, width: 41, height: 92, font: 5.5 },
          series: [['Total DOS', r2Total, 'total'], ['B-2s', r2B2s, 'b2s'], ['B-2p', r2B2p, 'b2p'], ['N-2s', r2N2s, 'n2s'], ['N-2p', r2N2p, 'n2p'],
                   ['S-3s', r2S3s, 'pink', true], ['S-3p', r2S3p, 'yellow'], ['O-2s', r2O2s, 'olive'], ['O-2p', r2O2p, 'navy'],
                   ['As-4s', r2As4s, 'purple', true], ['As-4p', r2As4p, 'maroon']] },
        { col: 'right', top: 221, bottom: 327, yMin: -1.2, yMax: 35.6, title: 'H2S+As-BNNS', titleAt: [450, 232],
          legend: { left: 597, top: 222, width: 41, height: 67, font: 5.5 },
          series: [['Total DOS', r3Total, 'total'], ['B-2s', r3B2s, 'b2s'], ['B-2p', r3B2p, 'b2p'], ['N-2s', r3N2s, 'n2s'], ['N-2p', r3N2p, 'n2p'],
                   ['As-4s', r3As4s, 'pink'], ['As-4p', r3As4p, 'yellow'], ['C-2s', r3C2s, 'olive'], ['C-2p', r3C2p, 'blue'],
                   ['O-2s', r3O2s, 'purple'], ['O-2p', r3O2p, 'maroon']] },
        { col: 'right', top: 327, bottom: 438, yMin: -2.2, yMax: 35.6, title: 'CO2+As-BNNS', titleAt: [458, 343],
          legend: { left: 597, top: 330, width: 41, height: 92, font: 5.5 },
          series: [['Total DOS', r4Total, 'total'], ['B-2s', r4B2s, 'b2s'], ['B-2p', r4B2p, 'b2p'], ['N-2s', r4N2s, 'n2s'], ['N-2p', r4N2p, 'n2p'],
                   ['As-4s', r4As4s, 'pink'], ['As-4p', r4As4p, 'yellow'], ['H-1s', r4H1s, 'olive'], ['S-3s', r4S3s, 'navy'],
                   ['S-3p', r4S3p, 'magenta', true]] }
    ];

    /**
     * Frame around each panel plus the grey Fermi-level line
     */
    const panelFrame = {
        id: 'panelFrame',
        beforeDatasetsDraw: function(chart) {
            const ctx = chart.ctx;
            const area = chart.chartArea;
            const px = chart.scales.x.getPixelForValue(FERMI_LEVEL);
            ctx.save();
            ctx.strokeStyle = '#b8b8b8';
            ctx.lineWidth = 1;
            ctx.beginPath();
            ctx.moveTo(px, area.top);
            ctx.lineTo(px, area.bottom);
            ctx.stroke();
            ctx.restore();
        },
        afterDraw: function(chart) {
            const ctx = chart.ctx;
            const area = chart.chartArea;
            ctx.save();
            ctx.strokeStyle = '#000';
            ctx.lineWidth = 1.5;
            ctx.strokeRect(area.left, area.top, area.right - area.left, area.bottom - area.top);
            ctx.restore();
        }
    };

    const DosFigure = {

        figure: null,

        init: function() {
            this.figure = document.getElementById('figure');
            PANELS.forEach((panel, i) => {
                const isBottom = (i === 3 || i === 7);
                this.buildPanel(panel, isBottom);
                this.addLabels(panel);
                this.buildLegend(panel);
            });
            this.addAxisTitle(8, 200);
            this.addAxisTitle(386, 200);
        },

        /**
         * Create the canvas and the Chart.js chart for one panel
         */
        buildPanel: function(panel, isBottom) {
            const col = COLUMNS[panel.col];
            const top = panel.top - 3;
            const height = isBottom ? 480 - top : panel.bottom - panel.top + 6;
            const canvas = document.createElement('canvas');
            canvas.width = col.width;
            canvas.height = height;
            canvas.style.left = col.left + 'px';
            canvas.style.top = top + 'px';
            canvas.style.width = col.width + 'px';
            canvas.style.height = height + 'px';
            this.figure.appendChild(canvas);

            const datasets = panel.series.map(function(s) {
                return {
                    label: s[0],
                    data: s[1].map(function(p) { return { x: p[0], y: p[1] }; }),
                    borderColor: COLORS[s[2]],
                    borderWidth: s[2] === 'total' ? 2.3 : 1.8,
                    borderDash: s[3] ? [2, 1.5] : [],
                    pointRadius: 0,
                    cubicInterpolationMode: 'monotone',
                    fill: false
                };
            });

            new Chart(canvas, {
                type: 'line',
                data: { datasets: datasets },
                options: {
                    responsive: false,
                    animation: false,
                    events: [],
                    layout: { padding: { top: 3, bottom: isBottom ? 0 : 3, left: 0, right: col.padRight } },
                    plugins: { legend: { display: false }, tooltip: { enabled: false } },
                    scales: {
                        x: {
                            type: 'linear',
                            display: isBottom,
                            min: -10,
                            max: 10,
                            afterBuildTicks: function(scale) {
                                scale.ticks = X_TICKS.map(function(v) { return { value: v }; });
                            },
                            afterFit: function(scale) {
                                scale.height = isBottom ? 480 - panel.bottom : 0;
                                scale.paddingLeft = 0;
                                scale.paddingRight = 0;
                            },
                            grid: { drawOnChartArea: false, tickLength: 4, color: '#000', lineWidth: 1 },
                            border: { display: true, color: '#000', width: 1.5 },
                            ticks: { color: '#000', padding: 2, maxRotation: 0, font: { family: 'Liberation Sans', size: 14 } },
                            title: {
                                display: true,
                                text: 'Energy (eV)',
                                color: '#000',
                                padding: { top: 0, bottom: 2 },
                                font: { family: 'Liberation Sans', size: 16 }
                            }
                        },
                        y: {
                            type: 'linear',
                            min: panel.yMin,
                            max: panel.yMax,
                            afterBuildTicks: function(scale) {
                                scale.ticks = col.ticks.map(function(v) { return { value: v }; });
                            },
                            afterFit: function(scale) {
                                scale.width = col.axisWidth;
                                scale.paddingTop = 0;
                                scale.paddingBottom = 0;
                            },
                            grid: { drawOnChartArea: false, tickLength: 4, color: '#000', lineWidth: 1 },
                            border: { display: true, color: '#000', width: 1.5 },
                            ticks: {
                                color: '#000',
                                padding: 2,
                                font: { family: 'Liberation Sans', size: 13 },
                                callback: function(value) {
                                    return Number(value).toFixed(col.decimals);
                                }
                            }
                        }
                    }
                },
                plugins: [panelFrame]
            });
        },

        /**
         * Panel title and the E_F marker
         */
        addLabels: function(panel) {
            const title = document.createElement('div');
            title.className = 'panel-title';
            title.textContent = panel.title;
            title.style.left = panel.titleAt[0] + 'px';
            title.style.top = (panel.titleAt[1] - 7) + 'px';
            this.figure.appendChild(title);

            if (panel.fermiAt) {
                const ef = document.createElement('div');
                ef.className = 'fermi';
                ef.innerHTML = 'E<sub>F</sub>';
                ef.style.left = panel.fermiAt[0] + 'px';
                ef.style.top = (panel.fermiAt[1] - 9) + 'px';
                this.figure.appendChild(ef);
            }
        },

        /**
         * Small legend box inside the panel, built from the series list
         */
        buildLegend: function(panel) {
            const lg = panel.legend;
            const box = document.createElement('div');
            box.className = 'dos-legend';
            box.style.left = lg.left + 'px';
            box.style.top = lg.top + 'px';
            box.style.width = lg.width + 'px';
            box.style.height = lg.height + 'px';
            box.style.fontSize = lg.font + 'px';
            const rowH = (lg.height - 4) / panel.series.length;
            panel.series.forEach(function(s) {
                const row = document.createElement('div');
                row.style.height = rowH + 'px';
                row.style.lineHeight = rowH + 'px';
                const swatch = document.createElement('span');
                swatch.className = 'swatch';
                swatch.style.background = COLORS[s[2]];
                row.appendChild(swatch);
                row.appendChild(document.createTextNode(s[0]));
                box.appendChild(row);
            });
            this.figure.appendChild(box);
        },

        addAxisTitle: function(cx, cy) {
            const t = document.createElement('div');
            t.className = 'axis-title';
            t.textContent = 'Density of States (electrons/eV)';
            t.style.left = (cx - 130) + 'px';
            t.style.top = (cy - 9) + 'px';
            this.figure.appendChild(t);
        }
    };

    DosFigure.init();

})();
</script>
</body>
</html>
